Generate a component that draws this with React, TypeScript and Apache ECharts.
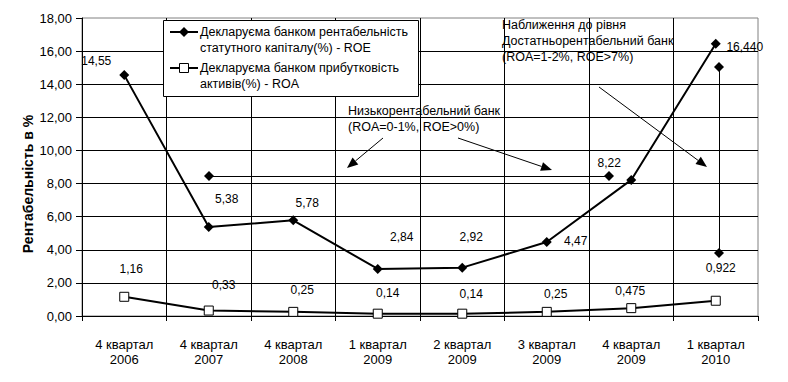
import React, { useEffect, useRef } from "react";
import * as echarts from "echarts";

const categories = [
  "4 квартал\n2006",
  "4 квартал\n2007",
  "4 квартал\n2008",
  "1 квартал\n2009",
  "2 квартал\n2009",
  "3 квартал\n2009",
  "4 квартал\n2009",
  "1 квартал\n2010",
];
const roeValues = [14.55, 5.38, 5.78, 2.84, 2.92, 4.47, 8.22, 16.44];
const roaValues = [1.16, 0.33, 0.25, 0.14, 0.14, 0.25, 0.475, 0.922];
const roeLabels = ["14,55", "5,38", "5,78", "2,84", "2,92", "4,47", "8,22", "16,440"];
const roaLabels = ["1,16", "0,33", "0,25", "0,14", "0,14", "0,25", "0,475", "0,922"];
const roeName = "Декларуєма банком рентабельність\nстатутного капіталу(%) - ROE";
const roaName = "Декларуєма банком прибутковість\nактивів(%) - ROA";
const lowText = "Низькорентабельний банк\n(ROA=0-1%, ROE>0%)";
const highText = "Наближення до рівня\nДостатньорентабельний банк\n(ROA=1-2%, ROE>7%)";
const yTitle = "Рентабельність в %";

const roeLabelOffsets = [[-28, -14], [18, -28], [14, -17], [24, -32], [9, -31], [29, -1], [-22, -17], [29, 3]];
const roaLabelOffsets = [[7, -28], [15, -26], [9, -22], [10, -21], [9, -20], [9, -18], [-1, -17], [5, -33]];

const FONT = "'Liberation Sans', Arial, sans-serif";

function arrow(x1: number, y1: number, x2: number, y2: number) {
  const a = Math.atan2(y2 - y1, x2 - x1);
  const L = 11, W = 4.5;
  const bx = x2 - L * Math.cos(a), by = y2 - L * Math.sin(a);
  const px = -Math.sin(a), py = Math.cos(a);
  return [
    { type: "line", z: 100, shape: { x1, y1, x2: bx, y2: by }, style: { stroke: "#000", lineWidth: 1 } },
    {
      type: "polygon", z: 100,
      shape: { points: [[x2, y2], [bx + W * px, by + W * py], [bx - W * px, by - W * py]] },
      style: { fill: "#000" },
    },
  ];
}

function diamond(x: number, y: number) {
  return {
    type: "polygon", z: 100,
    shape: { points: [[x, y - 5], [x + 5, y], [x, y + 5], [x - 5, y]] },
    style: { fill: "#000" },
  };
}

export default function App() {
  const ref = useRef<HTMLDivElement>(null);
  useEffect(() => {
    const chart = echarts.init(ref.current!, null, { renderer: "svg" });
    const mkData = (vals: number[], labels: string[], offs: number[][]) =>
      vals.map((v, i) => ({
        value: v,
        label: {
          show: true,
          position: "inside",
          offset: offs[i],
          formatter: labels[i],
          color: "#000",
          fontSize: 12,
          fontFamily: FONT,
          align: "center",
          verticalAlign: "middle",
        },
      }));
    const graphic: any[] = [
      {
        type: "text", z: 100, x: 28, y: 184, rotation: Math.PI / 2,
        style: { text: yTitle, font: `bold 14px ${FONT}`, fill: "#000", align: "center", verticalAlign: "middle" },
      },
      // legend
      {
        type: "rect", z: 100, shape: { x: 163.5, y: 20.5, width: 255, height: 76 },
        style: { fill: "#fff", stroke: "#000", lineWidth: 1 },
      },
      { type: "line", z: 101, shape: { x1: 170, y1: 32, x2: 198, y2: 32 }, style: { stroke: "#000", lineWidth: 2 } },
      { ...diamond(184, 32), z: 102 },
      {
        type: "text", z: 101, x: 200, y: 24,
        style: { text: roeName, font: `12.5px ${FONT}`, fill: "#000", lineHeight: 16, verticalAlign: "top" },
      },
      { type: "line", z: 101, shape: { x1: 170, y1: 68, x2: 198, y2: 68 }, style: { stroke: "#000", lineWidth: 2 } },
      {
        type: "rect", z: 102, shape: { x: 179.5, y: 63.5, width: 9, height: 9 },
        style: { fill: "#fff", stroke: "#000", lineWidth: 1 },
      },
      {
        type: "text", z: 101, x: 200, y: 60,
        style: { text: roaName, font: `12.5px ${FONT}`, fill: "#000", lineHeight: 16, verticalAlign: "top" },
      },
      // annotation texts
      {
        type: "text", z: 100, x: 348, y: 103,
        style: { text: lowText, font: `12.5px ${FONT}`, fill: "#000", lineHeight: 16, verticalAlign: "top" },
      },
      {
        type: "text", z: 100, x: 502, y: 17,
        style: { text: highText, font: `12.5px ${FONT}`, fill: "#000", lineHeight: 16, verticalAlign: "top" },
      },
      ...arrow(383, 138, 347, 168),
      ...arrow(458, 138, 552, 170),
      ...arrow(599, 87, 707, 167),
      { type: "line", z: 100, shape: { x1: 209, y1: 176.5, x2: 609, y2: 176.5 }, style: { stroke: "#000", lineWidth: 1 } },
      diamond(209, 176),
      diamond(609, 176),
      { type: "line", z: 100, shape: { x1: 719.5, y1: 67, x2: 719.5, y2: 253 }, style: { stroke: "#000", lineWidth: 1 } },
      diamond(719, 67),
      diamond(719, 253),
    ];
    chart.setOption({
      animation: false,
      backgroundColor: "#fff",
      textStyle: { fontFamily: FONT },
      grid: {
        left: 82, top: 18, width: 676, height: 298,
        show: true, borderColor: "#808080", borderWidth: 1, backgroundColor: "#fff",
      },
      xAxis: {
        type: "category",
        data: categories,
        boundaryGap: true,
        axisLine: { lineStyle: { color: "#000", width: 1 } },
        axisTick: { show: true, length: 5, lineStyle: { color: "#000" } },
        axisLabel: { interval: 0, color: "#000", fontSize: 13, lineHeight: 15, margin: 21, fontFamily: FONT },
        splitLine: { show: true, showMaxLine: false, lineStyle: { color: "#000", width: 1 } },
      },
      yAxis: {
        type: "value",
        min: 0, max: 18, interval: 2,
        axisLine: { show: true, lineStyle: { color: "#000", width: 1 } },
        axisTick: { show: true, length: 6, lineStyle: { color: "#000" } },
        axisLabel: {
          color: "#000", fontSize: 13, margin: 10, fontFamily: FONT,
          formatter: (v: number) => v.toFixed(2).replace(".", ","),
        },
        splitLine: { show: true, showMaxLine: false, lineStyle: { color: "#000", width: 1 } },
      },
      series: [
        {
          name: roeName,
          type: "line",
          data: mkData(roeValues, roeLabels, roeLabelOffsets),
          smooth: false,
          symbol: "diamond",
          symbolSize: 10,
          lineStyle: { color: "#000", width: 2 },
          itemStyle: { color: "#000" },
          z: 5,
        },
        {
          name: roaName,
          type: "line",
          data: mkData(roaValues, roaLabels, roaLabelOffsets),
          smooth: false,
          symbol: "rect",
          symbolSize: 9,
          lineStyle: { color: "#000", width: 2 },
          itemStyle: { color: "#fff", borderColor: "#000", borderWidth: 1 },
          z: 5,
        },
      ],
      graphic,
    });
    return () => chart.dispose();
  }, []);
  return (
    <div
      ref={ref}
      style={{ position: "fixed", left: 0, top: 0, width: 788, height: 382, background: "#fff" }}
    />
  );
}
